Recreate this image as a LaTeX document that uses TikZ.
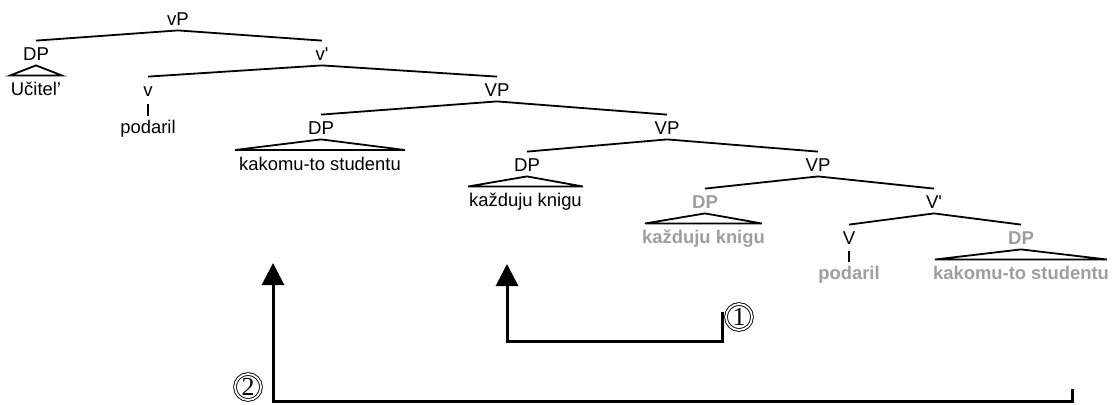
\documentclass[tikz,border=0pt]{standalone}
\usepackage{fontspec}
\newfontfamily\arial{Liberation Sans}
\newfontfamily\circfont{Liberation Serif}
\usetikzlibrary{calc,arrows.meta}
\definecolor{trgray}{RGB}{158,158,158}
\tikzset{
  lab/.style={font=\arial\fontsize{9.3pt}{10pt}\selectfont, inner xsep=0pt, inner ysep=2.4pt, text height=0.72em, text depth=0pt},
  leaf/.style={font=\arial\fontsize{9.2pt}{10pt}\selectfont, inner sep=0pt, anchor=base},
  glab/.style={lab, text=trgray, font=\arial\bfseries\fontsize{9.3pt}{10pt}\selectfont},
  gleaf/.style={leaf, text=trgray, font=\arial\bfseries\fontsize{9.2pt}{10pt}\selectfont},
  br/.style={line width=0.9pt},
  mv/.style={line width=1.5pt},
  circnum/.style={circle, draw, double, line width=0.45pt, double distance=0.9pt, minimum size=13pt, inner sep=0pt, font=\circfont\fontsize{13pt}{13pt}\selectfont}
}
\begin{document}
\begin{tikzpicture}[x=0.5pt,y=-0.5pt]
\useasboundingbox (0,0) rectangle (1114,404);
% tree nodes
\node[lab] (vP) at (178,18) {vP};
\node[lab] (DPa) at (36,53) {DP};
\node[lab] (vbar) at (322,53) {v'};
\node[lab] (v) at (148,89) {v};
\node[lab] (VPa) at (497,89) {VP};
\node[lab] (DPb) at (321,127) {DP};
\node[lab] (VPb) at (667,127) {VP};
\node[lab] (DPc) at (527,164) {DP};
\node[lab] (VPc) at (818,164) {VP};
\node[glab] (DPd) at (705,201) {DP};
\node[lab] (Vbar) at (934,201) {V'};
\node[lab] (V) at (849,237) {V};
\node[glab] (DPe) at (1021,237) {DP};
% leaves
\node[leaf] (uc) at (36,95.5) {Učitel’};
\node[leaf] (poda) at (148,133.5) {podaril};
\node[leaf] (kaka) at (320,170) {kakomu-to studentu};
\node[leaf] (kaza) at (525.5,206.5) {každuju knigu};
\node[gleaf] (kazb) at (703.5,243.5) {každuju knigu};
\node[gleaf] (podb) at (849,279) {podaril};
\node[gleaf] (kakb) at (1021,279.5) {kakomu-to studentu};
% branches
\draw[br] (vP.south) -- (DPa.north);
\draw[br] (vP.south) -- (vbar.north);
\draw[br] (vbar.south) -- (v.north);
\draw[br] (vbar.south) -- (VPa.north);
\draw[br] (VPa.south) -- (DPb.north);
\draw[br] (VPa.south) -- (VPb.north);
\draw[br] (VPb.south) -- (DPc.north);
\draw[br] (VPb.south) -- (VPc.north);
\draw[br] (VPc.south) -- (DPd.north);
\draw[br] (VPc.south) -- (Vbar.north);
\draw[br] (Vbar.south) -- (V.north);
\draw[br] (Vbar.south) -- (DPe.north);
% triangles
\draw[br] (DPa.south) -- ($(uc.base)+(-26,-20)$) -- ($(uc.base)+(26,-20)$) -- cycle;
\draw[br] (DPb.south) -- ($(kaka.base)+(-85,-20)$) -- ($(kaka.base)+(85,-20)$) -- cycle;
\draw[br] (DPc.south) -- ($(kaza.base)+(-57.5,-20)$) -- ($(kaza.base)+(57.5,-20)$) -- cycle;
\draw[br] (DPd.south) -- ($(kazb.base)+(-58.5,-20)$) -- ($(kazb.base)+(58.5,-20)$) -- cycle;
\draw[br] (DPe.south) -- ($(kakb.base)+(-86,-20)$) -- ($(kakb.base)+(86,-20)$) -- cycle;
% head bars
\draw[br] ($(v.south)+(0,3)$) -- ($(poda.base)+(0,-18)$);
\draw[br] ($(V.south)+(0,2)$) -- ($(podb.base)+(0,-17)$);
% movement arrows
\node[circnum] (c1) at (739,317) {1};
\node[circnum] (c2) at (248,387) {2};
\coordinate (a1s) at (722,312);
\coordinate (a1e) at (507,264);
\coordinate (a2s) at (1072,389);
\coordinate (a2e) at (273,263);
\draw[mv, -{Triangle[length=11pt,width=11pt]}] (a1s) -- (a1s |- 0,341) -- (a1e |- 0,341) -- (a1e);
\draw[mv, -{Triangle[length=11pt,width=11pt]}] (a2s) -- (a2s |- 0,401) -- (a2e |- 0,401) -- (a2e);
\end{tikzpicture}
\end{document}
